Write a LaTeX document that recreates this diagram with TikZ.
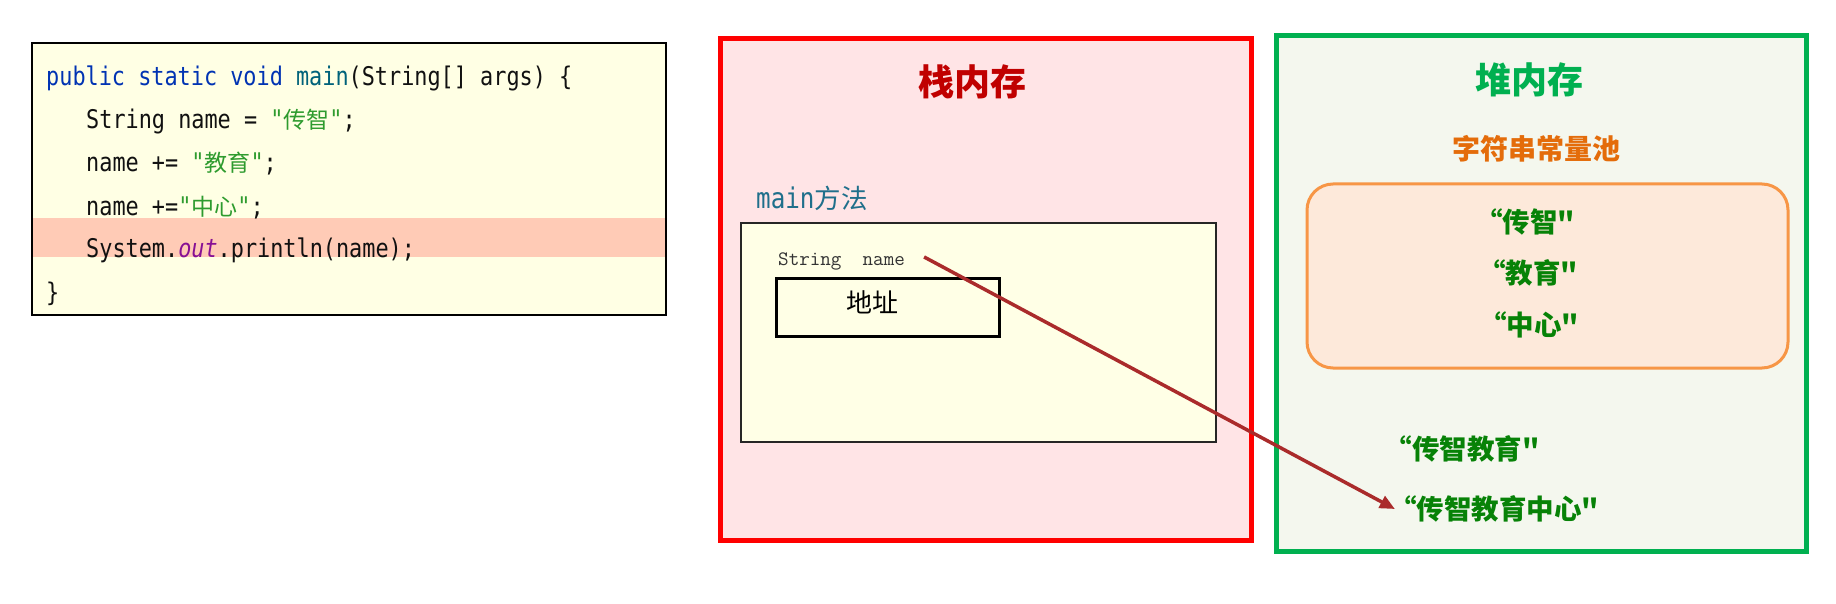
\documentclass[tikz,border=0pt]{standalone}
\usepackage{fontspec}
\newfontfamily\cjk{Noto Sans CJK SC}
\newfontfamily\codef[FakeStretch=0.85]{DejaVu Sans Mono}
\usetikzlibrary{arrows.meta}
\definecolor{codebg}{HTML}{FFFFE4}
\definecolor{band}{HTML}{FFCBB6}
\definecolor{stackbg}{HTML}{FFE4E6}
\definecolor{stackred}{HTML}{FF0000}
\definecolor{stacktitle}{HTML}{C00000}
\definecolor{framebg}{HTML}{FFFFE6}
\definecolor{heapbg}{HTML}{F4F7EE}
\definecolor{heapgreen}{HTML}{00B050}
\definecolor{poolbg}{HTML}{FDE9DA}
\definecolor{poolorange}{HTML}{F79646}
\definecolor{pooltitle}{HTML}{E46C0A}
\definecolor{strgreen}{HTML}{078207}
\definecolor{kwblue}{HTML}{0033B3}
\definecolor{mteal}{HTML}{00627A}
\definecolor{codegreen}{HTML}{2E9B2E}
\definecolor{outpurple}{HTML}{871094}
\definecolor{codeblack}{HTML}{111111}
\definecolor{arrowred}{HTML}{AA2B2B}
\definecolor{frametitle}{HTML}{1F6F8B}
\newcommand\zhs[1]{{\cjk\fontsize{23pt}{28pt}\selectfont #1}}
\tikzset{
  box/.style={anchor=north west, inner sep=0pt, outer sep=0pt},
  codeline/.style={anchor=base west, inner sep=0pt, text=codeblack,
    font={\codef\fontsize{25.7pt}{30pt}\selectfont}},
  bigtitle/.style={inner sep=0pt, font={\cjk\bfseries\fontsize{36pt}{40pt}\selectfont}},
  poolstr/.style={inner sep=0pt, text=strgreen, font={\cjk\bfseries\fontsize{27.5pt}{31pt}\selectfont}},
  refarrow/.style={draw=arrowred, line width=3.5pt, -{Triangle[length=15pt,width=13pt]}}
}
\begin{document}
\begin{tikzpicture}[x=1pt,y=-1pt]
\useasboundingbox (0,0) rectangle (1836,604);
% code box
\node[box, fill=codebg, minimum width=634pt, minimum height=272pt] (code) at (31.6,43) {};
\node[box, fill=band, minimum width=634pt, minimum height=39pt] (hl) at (31.6,218) {};
\node[box, draw=black, line width=2pt, minimum width=634pt, minimum height=272pt] (codeframe) at (31.6,43) {};
\node[codeline] (l1) at (46,86) {\textcolor{kwblue}{public static void} \textcolor{mteal}{main}(String[] args) \{};
\node[codeline] (l2) at (86,129) {String name = \textcolor{codegreen}{"\zhs{传智}"};};
\node[codeline] (l3) at (86,172) {name += \textcolor{codegreen}{"\zhs{教育}"};};
\node[codeline] (l4) at (86,215) {name +=\textcolor{codegreen}{"\zhs{中心}"};};
\node[codeline] (l5) at (86,258) {System.\textcolor{outpurple}{\itshape out}.println(name);};
\node[codeline] (l6) at (46,301) {\}};
% stack
\node[box, fill=stackbg, draw=stackred, line width=5pt, minimum width=531pt, minimum height=501pt] (stack) at (720,39) {};
\node[bigtitle, text=stacktitle] (stitle) at (972,82) {栈内存};
\node[anchor=base west, inner sep=0pt, text=frametitle] (mtitle) at (756,208)
  {{\codef\fontsize{28.5pt}{32pt}\selectfont main}{\cjk\fontsize{26.5pt}{30pt}\selectfont 方法}};
\node[box, fill=framebg, draw=black!85, line width=1.5pt, minimum width=475pt, minimum height=219pt] (frame) at (741,223) {};
\node[anchor=base west, inner sep=0pt, text=black!80, font={\ttfamily\fontsize{20.5pt}{24pt}\selectfont}] (var) at (778,265) {String~~name};
\node[box, draw=black, line width=3pt, minimum width=223pt, minimum height=58pt] (addr) at (776,278) {};
\node[inner sep=0pt, font={\cjk\fontsize{26pt}{30pt}\selectfont}] (addrtxt) at (872,302) {地址};
% heap
\node[box, fill=heapbg, draw=heapgreen, line width=5pt, minimum width=530pt, minimum height=515pt] (heap) at (1276,36) {};
\node[bigtitle, text=heapgreen] (htitle) at (1529,80) {堆内存};
\node[inner sep=0pt, text=pooltitle, font={\cjk\bfseries\fontsize{28pt}{32pt}\selectfont}] (ptitle) at (1536,149) {字符串常量池};
\node[box, fill=poolbg, draw=poolorange, line width=3pt, rounded corners=26pt, minimum width=481pt, minimum height=184pt] (pool) at (1307,184) {};
\node[poolstr] (s1) at (1525,222) {“传智"};
\node[poolstr] (s2) at (1528,273) {“教育"};
\node[poolstr] (s3) at (1529,325) {“中心"};
\node[poolstr] (s4) at (1462,449) {“传智教育"};
\node[poolstr] (s5) at (1494,509) {“传智教育中心"};
% reference arrow
\draw[refarrow] ([xshift=19pt,yshift=4pt]var.east) -- ([xshift=6pt]s5.west);
\end{tikzpicture}
\end{document}
